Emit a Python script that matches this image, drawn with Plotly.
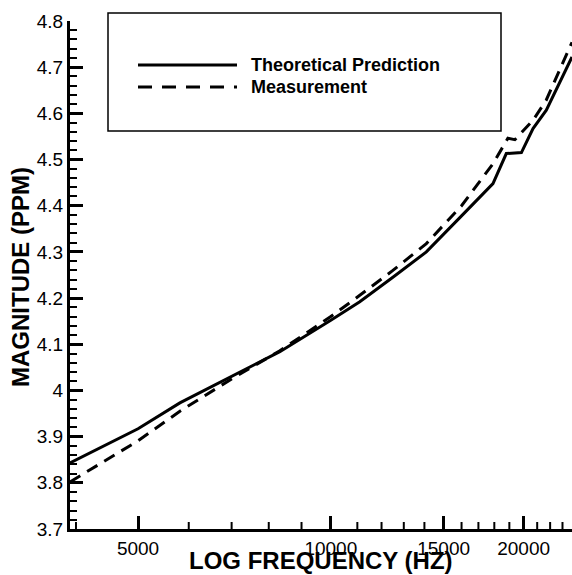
import numpy as np
import plotly.graph_objects as go

# ---- data ----
freq_theory = [3915, 5000, 5812, 7000, 8325, 10000, 11097, 12500, 14098, 16000,
               17914, 18793, 19842, 20688, 21700, 23800]
mag_theory = [3.843, 3.917, 3.973, 4.031, 4.084, 4.152, 4.192, 4.245, 4.300, 4.378,
              4.448, 4.513, 4.515, 4.567, 4.607, 4.722]

freq_meas = [3915, 5000, 5812, 7000, 8325, 10000, 11097, 12500, 14098, 16000,
             17914, 18900, 19380, 20688, 21700, 23800]
mag_meas = [3.802, 3.891, 3.955, 4.025, 4.086, 4.160, 4.206, 4.260, 4.318, 4.400,
            4.491, 4.546, 4.543, 4.585, 4.629, 4.754]

x_tickvals = [5000, 10000, 15000, 20000]
x_ticktext = ["5000", "10000", "15000", "20000"]
x_minor = [4000, 6000, 7000, 8000, 9000, 11000, 12000, 13000, 14000,
           16000, 17000, 18000, 19000, 21000, 22000, 23000]
y_range = [3.7, 4.8]

series_names = ["Theoretical Prediction", "Measurement"]
x_title = "LOG FREQUENCY (HZ)"
y_title = "MAGNITUDE (PPM)"

FONT = "Liberation Sans, Arial, sans-serif"

W, H = 572, 575
ml, mr, mt, mb = 70, 0, 21, 46
pw, ph = W - ml - mr, H - mt - mb

fig = go.Figure()
fig.add_trace(go.Scatter(x=freq_theory, y=mag_theory, mode="lines", name=series_names[0],
                         line=dict(color="black", width=3), showlegend=False))
fig.add_trace(go.Scatter(x=freq_meas, y=mag_meas, mode="lines", name=series_names[1],
                         line=dict(color="black", width=3, dash="12px,8px"), showlegend=False))

fig.update_layout(width=W, height=H, margin=dict(l=ml, r=mr, t=mt, b=mb),
                  paper_bgcolor="white", plot_bgcolor="white",
                  font=dict(family=FONT, color="black", size=19))
fig.update_xaxes(type="log", range=[np.log10(3915), np.log10(23800)],
                 tickmode="array", tickvals=x_tickvals, ticktext=x_ticktext,
                 ticks="inside", ticklen=13, tickwidth=3, tickcolor="black",
                 showline=True, linewidth=3, linecolor="black", showgrid=False,
                 tickfont=dict(family=FONT, size=19, color="black"))
fig.update_yaxes(range=y_range, dtick=0.1, ticks="inside", ticklen=13, tickwidth=3,
                 tickcolor="black", showline=True, linewidth=3, linecolor="black",
                 showgrid=False,
                 minor=dict(dtick=0.02, ticks="inside", ticklen=7, tickwidth=2, tickcolor="black"),
                 tickfont=dict(family=FONT, size=19, color="black"))

# minor x ticks from the x_minor list
for v in x_minor:
    fig.add_shape(type="line", xref="x", yref="paper", x0=v, x1=v, y0=0, y1=7 / ph,
                  line=dict(color="black", width=2))

def px(xp):
    return (xp - ml) / pw
def py(yp):
    return (H - mb - yp) / ph

# axis titles
fig.add_annotation(xref="paper", yref="paper", x=px(321), y=py(560), xanchor="center",
                   yanchor="middle", text="<b>" + x_title + "</b>", showarrow=False,
                   borderpad=0, font=dict(family=FONT, size=24, color="black"))
fig.add_annotation(xref="paper", yref="paper", x=px(20), y=py(277), xanchor="center",
                   yanchor="middle", text="<b>" + y_title + "</b>", showarrow=False,
                   borderpad=0, textangle=-90, font=dict(family=FONT, size=24, color="black"))

# legend box
fig.add_shape(type="rect", xref="paper", yref="paper",
              x0=px(108), x1=px(501), y0=py(131), y1=py(13),
              line=dict(color="black", width=1.5), fillcolor="white")
fig.add_shape(type="line", xref="paper", yref="paper",
              x0=px(138), x1=px(237), y0=py(65), y1=py(65),
              line=dict(color="black", width=3))
fig.add_shape(type="line", xref="paper", yref="paper",
              x0=px(138), x1=px(237), y0=py(87), y1=py(87),
              line=dict(color="black", width=3, dash="14px,10px"))
fig.add_annotation(xref="paper", yref="paper", x=px(249), y=py(65), xanchor="left", yanchor="middle",
                   text="<b>" + series_names[0] + "</b>", showarrow=False,
                   font=dict(family=FONT, size=18, color="black"))
fig.add_annotation(xref="paper", yref="paper", x=px(249), y=py(87), xanchor="left", yanchor="middle",
                   text="<b>" + series_names[1] + "</b>", showarrow=False,
                   font=dict(family=FONT, size=18, color="black"))

fig.write_html("out.html")
